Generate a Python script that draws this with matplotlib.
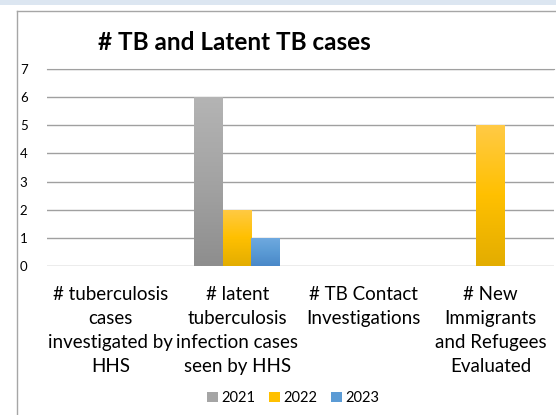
import numpy as np
import matplotlib
matplotlib.use('Agg')
import matplotlib.pyplot as plt
from matplotlib.colors import LinearSegmentedColormap
from matplotlib.patches import Rectangle

plt.rcParams['font.family'] = ['Lato', 'DejaVu Sans']

# ---- data ----
categories = ['# tuberculosis\ncases\ninvestigated by\nHHS',
              '# latent\ntuberculosis\ninfection cases\nseen by HHS',
              '# TB Contact\nInvestigations',
              '# New\nImmigrants\nand Refugees\nEvaluated']
years = ['2021', '2022', '2023']
vals_2021 = [0, 6, 0, 0]
vals_2022 = [0, 2, 0, 5]
vals_2023 = [0, 1, 0, 0]
y_ticks = [0, 1, 2, 3, 4, 5, 6, 7]

colors = ['#a5a5a5', '#ffc000', '#5b9bd5']
# bottom -> top gradient stops
grads = [['#8e8e8e', '#a3a3a3', '#b4b4b4'],
         ['#e3ad00', '#ffc000', '#ffca45'],
         ['#4a88c8', '#5b9bd5', '#70aae0']]

fig = plt.figure(figsize=(5.56, 4.15), dpi=100)

# light band at top + chart frame
fig.patches.append(Rectangle((0, 1 - 5 / 415), 1, 5 / 415, transform=fig.transFigure,
                             facecolor='#dce6f1', edgecolor='none', zorder=0))
fig.lines.append(plt.Line2D([17 / 556, 17 / 556], [0, 1 - 11 / 415], transform=fig.transFigure,
                            color='#a6a6a6', lw=1))
fig.lines.append(plt.Line2D([17 / 556, 1], [1 - 11 / 415, 1 - 11 / 415], transform=fig.transFigure,
                            color='#a6a6a6', lw=1))

ax = fig.add_axes([47 / 556, 1 - 266 / 415, 507 / 556, 197 / 415])
x = np.arange(len(categories))
w = 0.225
for i, (vals, c) in enumerate(zip([vals_2021, vals_2022, vals_2023], colors)):
    bars = ax.bar(x + (i - 1) * w, vals, w, color=c, label=years[i], zorder=2)
    cmap = LinearSegmentedColormap.from_list('g%d' % i, grads[i])
    for b in bars:
        h = b.get_height()
        if h <= 0:
            continue
        x0 = b.get_x()
        im = ax.imshow(np.linspace(1, 0, 100).reshape(-1, 1), cmap=cmap, aspect='auto',
                       extent=[x0, x0 + w, 0, h], zorder=3)
        im.set_clip_path(b)

ax.set_xlim(-0.5, len(categories) - 0.5)
ax.set_ylim(0, 7)
ax.set_yticks(y_ticks)
ax.yaxis.grid(True, color='#a0a0a0', lw=1)
ax.set_axisbelow(True)
for s in ['left', 'right', 'bottom']:
    ax.spines[s].set_visible(False)
ax.spines['top'].set_color('#a0a0a0')
ax.tick_params(axis='y', length=0, pad=14, labelsize=9.5)
ax.tick_params(axis='x', length=0)
ax.set_xticks(x)
ax.set_xticklabels([])
for xi, lab in zip(x, categories):
    ax.text(xi, -0.72, lab, ha='center', va='top', fontsize=13.5, linespacing=1.5,
            transform=ax.transData, clip_on=False)

fig.text(234 / 556, 1 - 42 / 415, '# TB and Latent TB cases', ha='center', va='center',
         fontsize=17.5, fontweight='bold')

fig.legend(loc='center', bbox_to_anchor=(293 / 556, 1 - 398 / 415), ncol=3, frameon=False,
           fontsize=10.5, handlelength=0.75, handleheight=0.75, handletextpad=0.27,
           columnspacing=0.9)

fig.savefig('out.png', dpi=100)
